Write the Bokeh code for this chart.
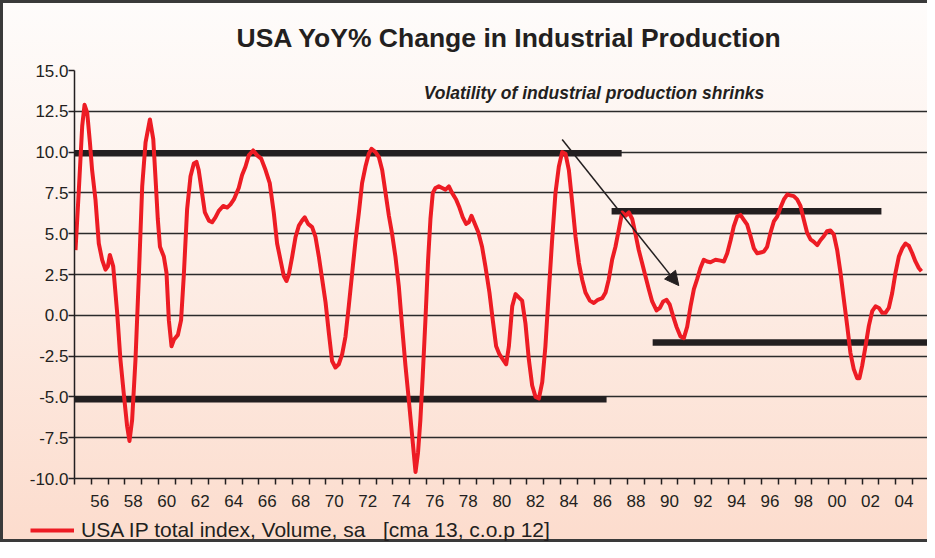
from bokeh.plotting import figure
from bokeh.layouts import column
from bokeh.models import (FixedTicker, NumeralTickFormatter, Arrow, NormalHead,
                          Label, Legend, LegendItem, Range1d)
from bokeh.embed import file_html
from bokeh.resources import INLINE

# ---------------- data ----------------
years = [
    1955.06, 1955.26, 1955.46, 1955.60, 1955.76, 1955.92, 1956.05, 1956.25, 1956.45, 1956.65,
    1956.85, 1956.99, 1957.11, 1957.31, 1957.55, 1957.74, 1957.94, 1958.14, 1958.28, 1958.44,
    1958.64, 1958.84, 1959.04, 1959.24, 1959.50, 1959.70, 1959.84, 1959.97, 1960.10, 1960.33,
    1960.49, 1960.63, 1960.79, 1960.93, 1961.17, 1961.36, 1961.52, 1961.72, 1961.92, 1962.12,
    1962.28, 1962.41, 1962.61, 1962.78, 1963.02, 1963.21, 1963.41, 1963.61, 1963.87, 1964.11,
    1964.31, 1964.51, 1964.80, 1965.00, 1965.20, 1965.40, 1965.66, 1965.90, 1966.14, 1966.40,
    1966.65, 1966.89, 1967.09, 1967.29, 1967.49, 1967.65, 1967.79, 1967.99, 1968.19, 1968.39,
    1968.58, 1968.74, 1968.94, 1969.18, 1969.38, 1969.58, 1969.78, 1969.98, 1970.18, 1970.37,
    1970.57, 1970.77, 1970.97, 1971.17, 1971.37, 1971.57, 1971.77, 1971.97, 1972.16, 1972.36,
    1972.56, 1972.72, 1972.96, 1973.16, 1973.36, 1973.56, 1973.76, 1973.95, 1974.15, 1974.35,
    1974.55, 1974.75, 1974.95, 1975.15, 1975.35, 1975.50, 1975.64, 1975.78, 1975.94, 1976.10,
    1976.24, 1976.38, 1976.54, 1976.74, 1976.94, 1977.14, 1977.34, 1977.53, 1977.77, 1977.97,
    1978.17, 1978.37, 1978.53, 1978.69, 1978.85, 1979.09, 1979.32, 1979.52, 1979.76, 1979.96,
    1980.16, 1980.36, 1980.56, 1980.76, 1980.92, 1981.12, 1981.32, 1981.51, 1981.71, 1981.91,
    1982.11, 1982.31, 1982.51, 1982.71, 1982.91, 1983.10, 1983.30, 1983.50, 1983.70, 1983.90,
    1984.10, 1984.30, 1984.50, 1984.70, 1984.90, 1985.10, 1985.29, 1985.49, 1985.75, 1985.99,
    1986.23, 1986.49, 1986.69, 1986.88, 1987.08, 1987.28, 1987.48, 1987.68, 1987.88, 1988.08,
    1988.28, 1988.47, 1988.67, 1988.87, 1989.07, 1989.27, 1989.47, 1989.73, 1989.93, 1990.13,
    1990.33, 1990.52, 1990.72, 1990.92, 1991.16, 1991.36, 1991.56, 1991.76, 1991.96, 1992.15,
    1992.35, 1992.55, 1992.75, 1992.95, 1993.25, 1993.55, 1993.75, 1993.95, 1994.15, 1994.34,
    1994.54, 1994.74, 1994.94, 1995.14, 1995.34, 1995.54, 1995.74, 1995.94, 1996.13, 1996.33,
    1996.53, 1996.73, 1996.93, 1997.13, 1997.33, 1997.53, 1997.72, 1997.92, 1998.12, 1998.32,
    1998.52, 1998.72, 1998.92, 1999.12, 1999.32, 1999.51, 1999.71, 1999.91, 2000.11, 2000.31,
    2000.51, 2000.71, 2000.91, 2001.11, 2001.30, 2001.50, 2001.70, 2001.84, 2002.00, 2002.20,
    2002.40, 2002.60, 2002.80, 2003.00, 2003.20, 2003.39, 2003.59, 2003.79, 2003.99, 2004.19,
    2004.39, 2004.59, 2004.79, 2004.99, 2005.18, 2005.38, 2005.54,
]
yoy = [
    4.0, 7.7, 11.6, 12.9, 12.4, 10.6, 8.9, 7.1, 4.4, 3.4,
    2.8, 3.0, 3.7, 3.0, 0.1, -2.7, -4.8, -6.8, -7.7, -6.4,
    -2.7, 2.4, 7.9, 10.6, 12.0, 10.8, 8.3, 5.9, 4.2, 3.6,
    2.6, -0.3, -1.9, -1.5, -1.2, -0.3, 2.4, 6.5, 8.5, 9.3,
    9.4, 8.9, 7.5, 6.3, 5.8, 5.7, 6.0, 6.4, 6.7, 6.6,
    6.8, 7.1, 7.8, 8.6, 9.1, 9.8, 10.1, 9.8, 9.6, 8.9,
    8.1, 6.3, 4.4, 3.4, 2.4, 2.1, 2.5, 3.6, 4.8, 5.5,
    5.8, 6.0, 5.6, 5.4, 4.8, 3.6, 2.2, 0.8, -1.1, -2.8,
    -3.2, -3.0, -2.4, -1.3, 0.6, 2.6, 4.6, 6.3, 8.1, 9.1,
    9.9, 10.2, 10.0, 9.7, 8.9, 7.5, 6.1, 5.0, 3.6, 1.8,
    -0.7, -3.1, -5.2, -7.4, -9.6, -8.4, -6.4, -3.7, -0.3, 3.4,
    5.9, 7.5, 7.8, 7.9, 7.8, 7.7, 7.9, 7.5, 7.1, 6.6,
    6.0, 5.6, 5.7, 6.1, 5.7, 5.1, 4.2, 3.0, 1.4, -0.3,
    -1.9, -2.4, -2.7, -3.0, -1.9, 0.55, 1.3, 1.1, 0.9, -0.5,
    -2.7, -4.3, -5.0, -5.1, -4.1, -1.9, 1.4, 4.6, 7.5, 9.1,
    10.0, 9.9, 8.9, 6.9, 4.8, 3.2, 2.2, 1.4, 0.9, 0.75,
    0.95, 1.05, 1.4, 2.2, 3.4, 4.2, 5.25, 6.3, 6.1, 6.3,
    5.9, 5.0, 4.0, 3.2, 2.4, 1.6, 0.85, 0.3, 0.45, 0.85,
    0.95, 0.65, -0.05, -0.7, -1.3, -1.4, -0.7, 0.55, 1.6, 2.2,
    2.9, 3.4, 3.3, 3.25, 3.4, 3.35, 3.3, 3.8, 4.6, 5.45,
    6.05, 6.15, 5.85, 5.55, 4.85, 4.1, 3.8, 3.85, 3.9, 4.2,
    5.05, 5.75, 6.05, 6.6, 7.1, 7.4, 7.35, 7.3, 7.1, 6.7,
    5.85, 5.05, 4.65, 4.5, 4.3, 4.6, 4.85, 5.15, 5.2, 4.95,
    4.0, 2.6, 0.95, -0.65, -2.3, -3.3, -3.85, -3.85, -3.1, -1.9,
    -0.65, 0.25, 0.55, 0.45, 0.15, 0.15, 0.45, 1.35, 2.6, 3.6,
    4.1, 4.4, 4.25, 3.8, 3.3, 2.9, 2.7,
]

band_start = [1955.0, 1955.0, 1987.05, 1989.5]
band_end = [1987.65, 1986.75, 2003.15, 2005.92]
band_level = [9.93, -5.15, 6.37, -1.66]

arrow_start = [1984.1, 10.77]
arrow_end = [1991.06, 1.82]

note_pos = [1986.0, 13.6]
note_text = "Volatility of industrial production shrinks"

y_ticks = [-10.0, -7.5, -5.0, -2.5, 0.0, 2.5, 5.0, 7.5, 10.0, 12.5, 15.0]
x_label_years = [1956, 1958, 1960, 1962, 1964, 1966, 1968, 1970, 1972, 1974, 1976, 1978,
                 1980, 1982, 1984, 1986, 1988, 1990, 1992, 1994, 1996, 1998, 2000, 2002, 2004]
x_labels = ["56", "58", "60", "62", "64", "66", "68", "70", "72", "74", "76", "78",
            "80", "82", "84", "86", "88", "90", "92", "94", "96", "98", "00", "02", "04"]
x_minor_years = list(range(1955, 2006))

title_text = "USA YoY% Change in Industrial Production"
legend_text = "USA IP total index, Volume, sa\u00a0\u00a0\u00a0[cma 13, c.o.p 12]"

# ---------------- styling ----------------
INK = "#231f20"
RED = "#ed1c24"
FONT = "Liberation Sans"
W = 927
H_MAIN = 512
H_LEG = 30

p = figure(width=W, height=H_MAIN, x_range=Range1d(1955.0, 2005.9), y_range=Range1d(-10, 15),
           output_backend="svg", toolbar_location=None,
           min_border_left=74, min_border_right=0, min_border_top=70, min_border_bottom=34)
p.frame_align = False
p.background_fill_alpha = 0
p.border_fill_alpha = 0
p.outline_line_color = None

p.title.text = title_text
p.title.align = "left"
p.title.offset = 162
p.title.text_font = FONT
p.title.text_font_size = "26.5px"
p.title.text_font_style = "bold"
p.title.text_color = INK
p.title.standoff = 35

# grid
p.xgrid.visible = False
p.ygrid.ticker = FixedTicker(ticks=y_ticks)
p.ygrid.grid_line_color = "#2b2b2b"
p.ygrid.grid_line_width = 1.5

# y axis
ya = p.yaxis[0]
ya.ticker = FixedTicker(ticks=y_ticks)
ya.formatter = NumeralTickFormatter(format="0.0")
ya.major_tick_out = 6
ya.major_tick_in = 0
ya.minor_tick_out = 0
ya.axis_line_width = 1.5
ya.axis_line_color = INK
ya.major_tick_line_color = INK
ya.major_tick_line_width = 1.5
ya.major_label_text_font = FONT
ya.major_label_text_font_size = "17px"
ya.major_label_text_color = INK
ya.major_label_standoff = 0

# x axis
xa = p.xaxis[0]
xa.ticker = FixedTicker(ticks=[y + 0.5 for y in x_label_years], minor_ticks=x_minor_years)
xa.major_label_overrides = {y + 0.5: lab for y, lab in zip(x_label_years, x_labels)}
xa.major_tick_out = 0
xa.major_tick_in = 0
xa.minor_tick_out = 6
xa.minor_tick_in = 0
xa.minor_tick_line_color = INK
xa.minor_tick_line_width = 1.5
xa.axis_line_width = 1.5
xa.axis_line_color = INK
xa.major_label_text_font = FONT
xa.major_label_text_font_size = "17px"
xa.major_label_text_color = INK
xa.major_label_standoff = 10

# thick annotation bars
p.segment(x0=band_start, y0=band_level, x1=band_end, y1=band_level,
          line_color=INK, line_width=6.5, line_cap="butt")

# series
r = p.line(years, yoy, line_color=RED, line_width=4, line_join="round")

# arrow
p.add_layout(Arrow(end=NormalHead(size=14, fill_color=INK, line_color=INK, line_width=1),
                   x_start=arrow_start[0], y_start=arrow_start[1],
                   x_end=arrow_end[0], y_end=arrow_end[1],
                   line_color=INK, line_width=1.5))

# annotation text
p.add_layout(Label(x=note_pos[0], y=note_pos[1], text=note_text,
                   text_align="center", text_baseline="middle",
                   text_font=FONT, text_font_size="17.5px",
                   text_font_style="bold italic", text_color=INK))

# ---------------- legend strip ----------------
pl = figure(width=W, height=H_LEG, x_range=Range1d(0, 1), y_range=Range1d(0, 1),
            output_backend="svg", toolbar_location=None,
            x_axis_type=None, y_axis_type=None, min_border=0)
pl.frame_align = False
pl.title.visible = False
pl.grid.visible = False
pl.background_fill_alpha = 0
pl.border_fill_alpha = 0
pl.outline_line_color = None
r_leg = pl.line(x=[float("nan")], y=[float("nan")], line_color=RED, line_width=4)
legend = Legend(items=[LegendItem(label=legend_text, renderers=[r_leg])],
                location=(30, 0), glyph_width=44, glyph_height=20,
                label_standoff=7, padding=0, margin=0, spacing=0,
                background_fill_alpha=0, border_line_alpha=0,
                label_text_font=FONT, label_text_font_size="21px",
                label_text_color=INK)
pl.add_layout(legend)

layout = column(p, pl, spacing=0)
layout.styles = {
    "background": "linear-gradient(180deg, #fefcfb 0%, #fdefe8 45%, #fcdccd 100%)",
    "box-shadow": "inset 3px 0 0 #3a3a3a, inset 0 3px 0 #3a3a3a, inset 0 -3px 0 #3a3a3a",
}

open("out.html", "w").write(file_html(layout, INLINE))
